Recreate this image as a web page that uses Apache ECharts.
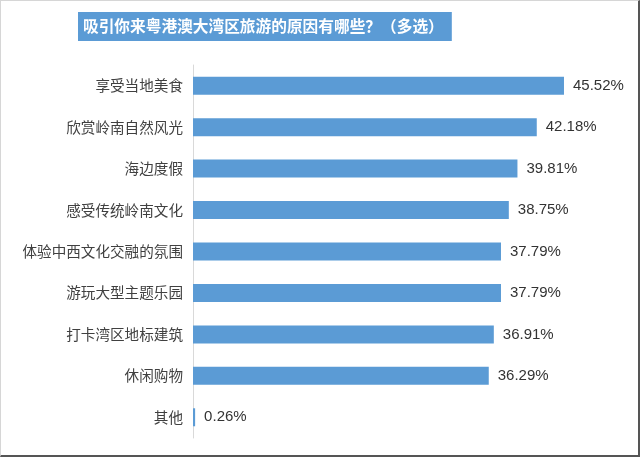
<!DOCTYPE html>
<html>
<head>
<meta charset="utf-8">
<script src="https://cdn.jsdelivr.net/npm/echarts@6/dist/echarts.min.js"></script>
<style>
html,body{margin:0;padding:0;background:#fff;}
#wrap{position:relative;width:640px;height:457px;}
#chart{position:absolute;left:0;top:0;width:640px;height:457px;}
#frame{position:absolute;left:0;top:0;width:640px;height:457px;box-sizing:border-box;
border-top:1px solid #d6d6d6;border-left:1px solid #d6d6d6;border-right:2px solid #555;border-bottom:2px solid #555;pointer-events:none;}
</style>
</head>
<body>
<div id="wrap"><div id="chart"></div><div id="frame"></div></div>
<script>
const titleText = '吸引你来粤港澳大湾区旅游的原因有哪些？（多选）';
const categories = ['享受当地美食','欣赏岭南自然风光','海边度假','感受传统岭南文化','体验中西文化交融的氛围','游玩大型主题乐园','打卡湾区地标建筑','休闲购物','其他'];
const values = [45.52, 42.18, 39.81, 38.75, 37.79, 37.79, 36.91, 36.29, 0.26];

const chart = echarts.init(document.getElementById('chart'));
chart.setOption({
  animation: false,
  title: {
    text: titleText,
    left: 78,
    top: 12,
    padding: [6, 8, 6, 5],
    backgroundColor: '#5B9BD5',
    textStyle: {
      color: '#fff',
      fontSize: 15.7,
      lineHeight: 17,
      fontWeight: 'bold',
      fontFamily: '"Noto Sans CJK SC", sans-serif'
    }
  },
  grid: { left: 193, right: 39.5, top: 65, bottom: 19, containLabel: false },
  xAxis: {
    type: 'value',
    min: 0,
    max: 50,
    show: false
  },
  yAxis: {
    type: 'category',
    data: categories,
    inverse: true,
    axisLine: { show: true, lineStyle: { color: '#d9d9d9', width: 1 } },
    axisTick: { show: false },
    axisLabel: {
      margin: 10,
      color: '#404040',
      fontSize: 14.6,
      fontFamily: '"Noto Sans CJK SC", sans-serif'
    }
  },
  series: [{
    type: 'bar',
    data: values,
    barWidth: 18,
    itemStyle: { color: '#5B9BD5' },
    label: {
      show: true,
      position: 'right',
      distance: 9,
      formatter: p => p.value.toFixed(2) + '%',
      color: '#333',
      fontSize: 15,
      fontFamily: '"Liberation Sans", Arial, sans-serif'
    }
  }]
});
</script>
</body>
</html>
